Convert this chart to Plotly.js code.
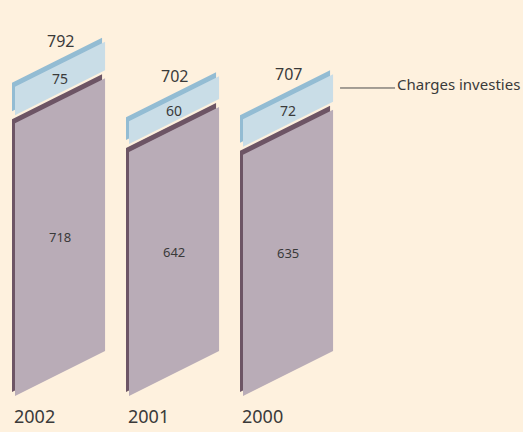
<!DOCTYPE html>
<html>
<head>
<meta charset="utf-8">
<script src="https://cdn.plot.ly/plotly-3.0.1.min.js"></script>
<style>html,body{margin:0;padding:0;background:#fef1de;}#chart{width:523px;height:432px;}</style>
</head>
<body>
<div id="chart"></div>
<script>
// ---- data ----
const years = ['2002', '2001', '2000'];
const baseValues = [718, 642, 635];       // lower (mauve) segment
const investedValues = [75, 60, 72];     // upper (blue) segment: Charges investies
const totals = [792, 702, 707];
const legendLabel = 'Charges investies';

// ---- styling / geometry ----
const W = 523, H = 432;
const K = 0.38;            // px per value unit
const STEP = 114;          // px per category
const X0PX = 15;           // px of first bar's left edge
const BASE_PX = 396;       // px of baseline
const BAR_W = 0.79;        // bar width in category units
const SKEW = 57 / K;       // value units rise per category unit (slant)
const EDX = 3 / STEP;      // edge offset (left)
const EDY = 4 / K;         // edge offset (up)
const GAP = 8 / K;         // gap between segments
const bg = '#fef1de';
const mauve = '#b9acb7', mauveDark = '#6d5565';
const blue = '#c9dde7', blueDark = '#93bcd3';
const textColor = '#3a3a3a';
const font = 'Noto Sans, Open Sans, sans-serif';

function para(x0, yb, yt, dx, dy) {
  const xs = [x0 + dx, x0 + BAR_W + dx, x0 + BAR_W + dx, x0 + dx, x0 + dx];
  const ys = [yb + dy, yb + SKEW * BAR_W + dy, yt + SKEW * BAR_W + dy, yt + dy, yb + dy];
  return {xs, ys};
}
function shape(x0, yb, yt, dx, dy, color) {
  const p = para(x0, yb, yt, dx, dy);
  return {type: 'scatter', mode: 'lines', x: p.xs, y: p.ys, fill: 'toself',
          fillcolor: color, line: {width: 0, color: color}, hoverinfo: 'skip', showlegend: false};
}

const traces = [];
const annotations = [];
years.forEach((yr, i) => {
  const x0 = i;
  const mb = 0, mt = baseValues[i];
  const bb = mt + GAP, bt = bb + investedValues[i];
  traces.push(shape(x0, mb, mt, -EDX, EDY, mauveDark));
  traces.push(shape(x0, mb, mt, 0, 0, mauve));
  traces.push(shape(x0, bb, bt, -EDX, EDY, blueDark));
  traces.push(shape(x0, bb, bt, 0, 0, blue));
  const cx = x0 + BAR_W / 2;
  annotations.push({x: cx, y: (mb + mt) / 2 + SKEW * BAR_W / 2, text: String(baseValues[i]),
    showarrow: false, font: {size: 13, color: textColor, family: font}});
  annotations.push({x: cx, y: (bb + bt) / 2 + SKEW * BAR_W / 2, text: String(investedValues[i]),
    showarrow: false, font: {size: 14, color: textColor, family: font}});
  annotations.push({x: cx, y: bt + SKEW * BAR_W / 2 + EDY, text: String(totals[i]),
    showarrow: false, yanchor: 'bottom', yshift: 6, font: {size: 16, color: textColor, family: font}});
  annotations.push({x: x0 - EDX, y: -20 / K, text: yr, xanchor: 'left', showarrow: false,
    font: {size: 18, color: textColor, family: font}});
});

// legend pointer on last bar's upper segment
const li = years.length - 1;
const ly = baseValues[li] + GAP + investedValues[li] / 2 + SKEW * BAR_W;
const lx0 = li + BAR_W + 7 / STEP, lx1 = lx0 + 55 / STEP;
const shapes = [{type: 'line', xref: 'x', yref: 'y', x0: lx0, x1: lx1, y0: ly, y1: ly,
  line: {color: '#4a4a4a', width: 1}}];
annotations.push({x: lx1, y: ly, text: legendLabel, xanchor: 'left', yanchor: 'bottom', yshift: -8,
  showarrow: false, font: {size: 15, color: textColor, family: font}});

const layout = {
  width: W, height: H,
  margin: {l: 0, r: 0, t: 0, b: 0},
  paper_bgcolor: bg, plot_bgcolor: bg,
  showlegend: false,
  xaxis: {range: [-X0PX / STEP, (W - X0PX) / STEP], visible: false, fixedrange: true},
  yaxis: {range: [-(H - BASE_PX) / K, BASE_PX / K], visible: false, fixedrange: true},
  shapes: shapes,
  annotations: annotations
};
Plotly.newPlot('chart', traces, layout, {displayModeBar: false, staticPlot: true});
</script>
</body>
</html>
